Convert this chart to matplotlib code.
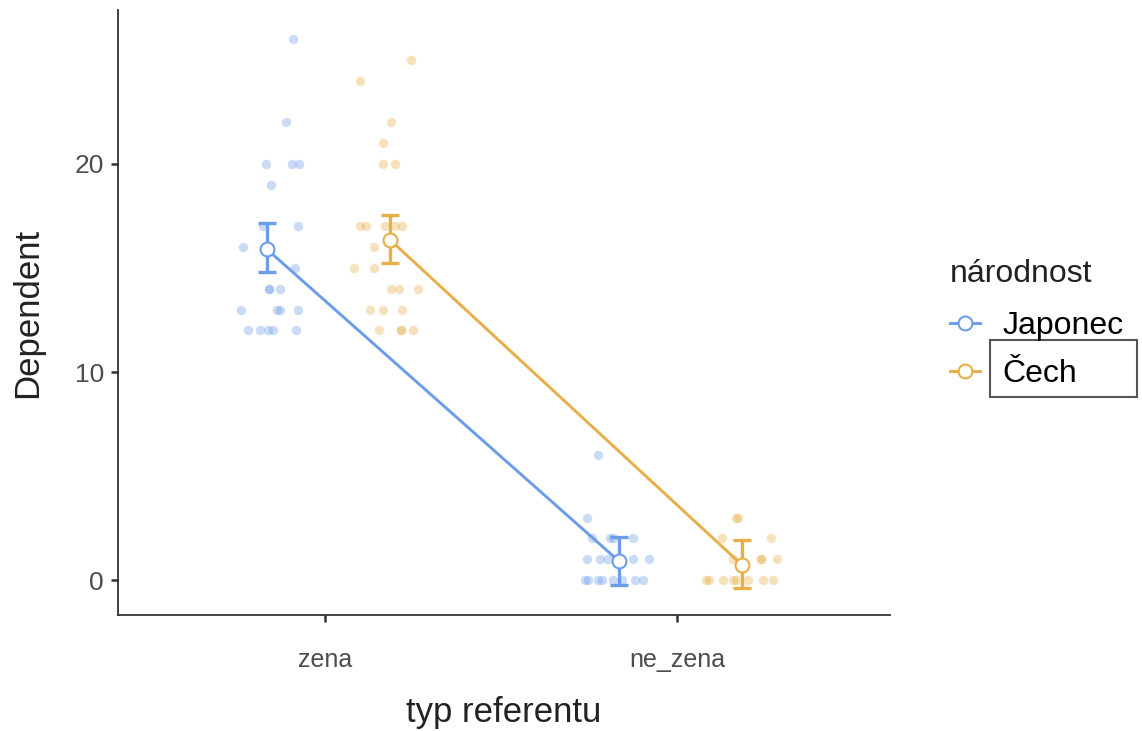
import matplotlib
matplotlib.use('Agg')
import matplotlib.pyplot as plt
from matplotlib.lines import Line2D
from matplotlib.patches import Rectangle

plt.rcParams['font.family'] = ['Liberation Sans', 'DejaVu Sans']

# data
categories = ['zena', 'ne_zena']
groups = ['Japonec', 'Čech']
colors = ['#6c9de8', '#e8ae48']
dodge = [-0.165, 0.185]

means = {'Japonec': [15.9, 0.91], 'Čech': [16.35, 0.72]}
ci_low = {'Japonec': [14.8, -0.24], 'Čech': [15.24, -0.38]}
ci_high = {'Japonec': [17.16, 2.07], 'Čech': [17.55, 1.92]}

# raw responses and their jitter (category units), per group / category
jap_zena_y = [26, 22, 20, 20, 20, 19, 17, 17, 16, 15, 14, 14, 14,
              13, 13, 13, 13, 12, 12, 12, 12, 12]
jap_zena_jit = [0.074, 0.054, -0.003, 0.071, 0.091, 0.011, -0.011, 0.088,
                -0.068, 0.080, 0.006, 0.006, 0.037, -0.074, 0.028, 0.037,
                0.088, -0.054, -0.020, 0.003, 0.017, 0.082]
cech_zena_y = [25, 24, 22, 21, 20, 20, 17, 17, 17, 17, 17, 16, 15, 15,
               14, 14, 14, 13, 13, 13, 12, 12, 12, 12]
cech_zena_jit = [0.060, -0.085, 0.003, -0.020, -0.020, 0.014, -0.085, -0.068,
                 -0.014, 0.014, 0.034, -0.045, -0.102, -0.045, 0.003, 0.026,
                 0.080, -0.057, -0.020, 0.034, -0.031, 0.031, 0.031, 0.065]
jap_ne_y = [6, 3, 2, 2, 2, 2, 1, 1, 1, 1, 1, 0, 0, 0, 0, 0, 0, 0, 0]
jap_ne_jit = [-0.060, -0.091, -0.077, -0.026, -0.017, 0.040, -0.091, -0.054,
              -0.031, 0.040, 0.085, -0.097, -0.088, -0.060, -0.048, -0.017,
              0.009, 0.045, 0.068]
cech_ne_y = [3, 3, 2, 2, 1, 1, 1, 1, 0, 0, 0, 0, 0, 0, 0, 0]
cech_ne_jit = [-0.017, -0.011, -0.057, 0.082, -0.026, 0.054, 0.054, 0.099,
               -0.102, -0.094, -0.054, -0.026, -0.017, 0.017, 0.060, 0.088]

raw = {'Japonec': [(jap_zena_y, jap_zena_jit), (jap_ne_y, jap_ne_jit)],
       'Čech': [(cech_zena_y, cech_zena_jit), (cech_ne_y, cech_ne_jit)]}

fig = plt.figure(figsize=(11.42, 7.31), dpi=100)
ax = fig.add_axes([118/1142, 1 - 615/731, 772/1142, 605/731])

for g, col, d in zip(groups, colors, dodge):
    for ci, (ys, jit) in enumerate(raw[g]):
        xs = [ci + d + j for j in jit]
        ax.scatter(xs, ys, s=46, color=col, alpha=0.36, linewidths=0, zorder=2)
    xm = [i + d for i in range(len(categories))]
    ax.plot(xm, means[g], color=col, lw=2.1, zorder=3)
    yerr = [[m - lo for m, lo in zip(means[g], ci_low[g])],
            [hi - m for m, hi in zip(means[g], ci_high[g])]]
    ax.errorbar(xm, means[g], yerr=yerr, fmt='none', ecolor=col,
                elinewidth=2.4, capsize=6.5, capthick=2.4, zorder=4)
    ax.plot(xm, means[g], 'o', ms=10, mfc='white', mec=col, mew=1.5, zorder=5)

ax.set_xlim(-0.588, 1.605)
ax.set_ylim(-1.68, 27.4)
ax.set_xticks(range(len(categories)))
ax.set_xticklabels(categories)
ax.set_yticks([0, 10, 20])
ax.spines['top'].set_visible(False)
ax.spines['right'].set_visible(False)
for s in ['left', 'bottom']:
    ax.spines[s].set_color('#333333')
    ax.spines[s].set_linewidth(1.3)
ax.tick_params(axis='y', labelsize=19, colors='#333333', labelcolor='#4d4d4d',
               length=5, width=1.8, pad=5)
ax.tick_params(axis='x', labelsize=18, colors='#333333', labelcolor='#4d4d4d',
               length=5, width=1.8, pad=19)
ax.set_xlabel('typ referentu', fontsize=25, color='#222222', labelpad=17)
ax.set_ylabel('Dependent', fontsize=25, color='#222222', labelpad=22)

handles = [Line2D([], [], color=c, lw=2.1, marker='o', ms=10, mfc='white',
                  mec=c, mew=1.5) for c in colors]
leg = fig.legend(handles, groups, title='národnost', loc='upper left',
                 bbox_to_anchor=(934/1142, 1 - 243/731), frameon=False,
                 fontsize=23, title_fontsize=23, handlelength=0.95,
                 handletextpad=0.7, labelspacing=0.55, borderpad=0)
leg.get_title().set_color('#222222')
leg._legend_box.align = 'left'
leg._legend_box.sep = 16

# the boxed "Čech" label in the reference
fig.patches.append(Rectangle((990/1142, 1 - 397/731), 147/1142, 57/731,
                             transform=fig.transFigure, fill=False,
                             edgecolor='#555555', lw=1.5, zorder=0))

fig.savefig('out.png', dpi=100)
